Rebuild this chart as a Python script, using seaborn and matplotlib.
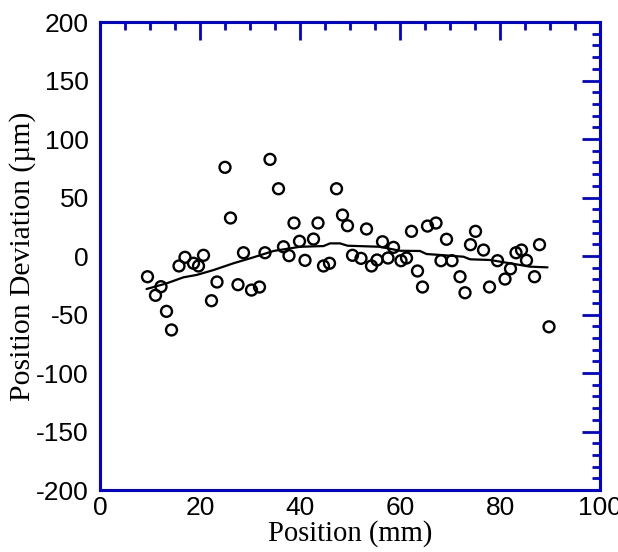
import numpy as np
import pandas as pd
import seaborn as sns
import matplotlib.pyplot as plt
from matplotlib.ticker import MultipleLocator

# Messpunkte
pos_mm = [9.5, 12.2, 11.1, 13.3, 14.3, 15.8, 17.0, 18.7, 19.7, 20.7,
          22.3, 23.4, 25.0, 26.1, 27.6, 28.7, 30.3, 31.9, 33.0, 34.0,
          35.7, 36.7, 37.8, 38.8, 39.9, 41.0, 42.7, 43.6, 44.7, 45.9,
          47.3, 48.5, 49.5, 50.5, 52.2, 53.3, 54.3, 55.4, 56.5, 57.6,
          58.7, 60.2, 61.3, 62.3, 63.5, 64.5, 65.5, 67.2, 68.2, 69.3,
          70.4, 72.0, 73.0, 74.1, 75.1, 76.7, 77.9, 79.5, 81.0, 82.1,
          83.2, 84.3, 85.3, 86.9, 87.9, 89.8]
dev_um = [-17.7, -26.2, -33.6, -47.3, -63.2, -8.5, -1.1, -6.2, -8.5, 0.6,
          -38.2, -22.2, 75.8, 32.5, -24.5, 2.8, -29.1, -26.5, 2.8, 82.6,
          57.5, 7.9, 0.3, 28.2, 12.6, -3.7, 14.5, 28.2, -8.5, -6.2,
          57.5, 35.0, 25.9, 0.6, -2.0, 23.1, -8.5, -3.4, 12.2, -1.7,
          7.4, -4.0, -1.7, 21.1, -12.8, -26.5, 25.6, 28.2, -4.0, 14.3,
          -4.0, -17.7, -31.4, 9.7, 21.1, 5.1, -26.5, -4.0, -19.7, -10.9,
          2.8, 5.1, -3.7, -17.7, 9.7, -60.5]

# geglaettete Kurve
fit_mm = [9.3, 13.3, 16.7, 19.3, 22.7, 26.7, 30.7, 34.7, 40.0, 44.7,
          46.0, 48.0, 49.5, 56.0, 60.0, 64.0, 65.3, 68.0, 72.7, 74.0,
          78.0, 82.0, 86.0, 89.5]
fit_um = [-28.2, -23.4, -18.2, -16.2, -12.0, -6.2, -1.1, 4.3, 7.9, 8.5,
          10.8, 10.8, 8.8, 7.9, 4.5, 4.3, 1.7, 0.9, -0.6, -2.8,
          -3.4, -6.2, -9.1, -9.7]

pts = pd.DataFrame({"x": pos_mm, "y": dev_um})
fit = pd.DataFrame({"x": fit_mm, "y": fit_um})

sns.set_style("white")
plt.rcParams["font.family"] = ["Liberation Sans", "DejaVu Sans"]
plt.rcParams["axes.unicode_minus"] = False
plt.rcParams["text.color"] = "black"
plt.rcParams["axes.labelcolor"] = "black"

fig = plt.figure(figsize=(6.18, 5.52), dpi=100)
ax = fig.add_axes([0.1618, 0.1123, 0.8091, 0.8478])

sns.lineplot(data=fit, x="x", y="y", ax=ax, color="black", lw=1.6,
             sort=False, estimator=None)
sns.scatterplot(data=pts, x="x", y="y", ax=ax, marker="o", s=62,
                facecolor="none", edgecolor="black", linewidth=1.7)

ax.set_xlim(0, 100)
ax.set_ylim(-200, 200)
ax.xaxis.set_major_locator(MultipleLocator(20))
ax.xaxis.set_minor_locator(MultipleLocator(5))
ax.yaxis.set_major_locator(MultipleLocator(50))
ax.yaxis.set_minor_locator(MultipleLocator(10))

blue = "#0000dd"
for sp in ax.spines.values():
    sp.set_color(blue)
    sp.set_linewidth(2.2)
ax.tick_params(which="both", direction="in", color=blue, width=2,
               top=True, right=True, labelsize=19, labelcolor="black")
ax.tick_params(which="major", length=13)
ax.tick_params(which="minor", length=6)
ax.tick_params(axis="y", which="major", pad=8)
ax.tick_params(axis="x", which="major", pad=4)

ax.set_xlabel("Position (mm)", family="Liberation Serif", fontsize=20.6,
              labelpad=0, color="black")
ax.set_ylabel("Position Deviation (µm)", family="Liberation Serif", fontsize=21.3,
              labelpad=0, color="black")

fig.savefig("out.png", dpi=100)
